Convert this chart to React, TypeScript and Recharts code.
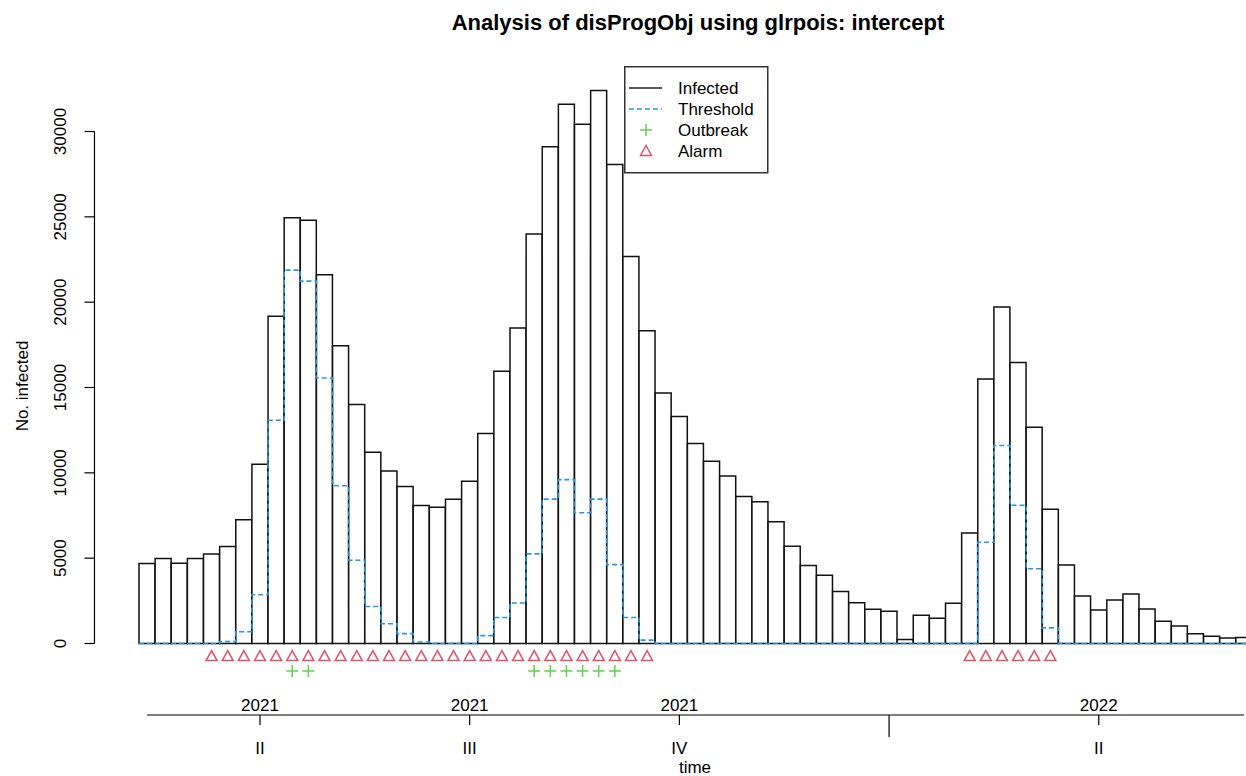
import React from 'react';
import { ComposedChart, Bar, Line, Scatter, XAxis, YAxis, ReferenceLine, Legend } from 'recharts';

const FONT = '"Liberation Sans", Arial, Helvetica, sans-serif';

// weekly counts (No. infected)
const infected = [
  4680, 4980, 4700, 4980, 5250, 5680, 7250, 10500, 19180, 24950,
  24800, 21600, 17450, 14000, 11200, 10100, 9200, 8080, 7980, 8450,
  9500, 12300, 15950, 18480, 24000, 29100, 31600, 30430, 32400, 28060,
  22680, 18330, 14680, 13300, 11720, 10680, 9810, 8620, 8300, 7130,
  5700, 4570, 4000, 3040, 2380, 2000, 1890, 240, 1660, 1480,
  2360, 6470, 15500, 19720, 16460, 12670, 7870, 4600, 2790, 1960,
  2550, 2900, 2020, 1300, 1020, 570, 430, 320, 350,
];

// glrpois threshold (upperbound)
const threshold = [
  0, 0, 0, 0, 0, 110, 690, 2860, 13080, 21880,
  21230, 15560, 9240, 4880, 2170, 1160, 580, 90, 0, 0,
  0, 460, 1520, 2370, 5250, 8460, 9600, 7660, 8460, 4620,
  1520, 200, 0, 0, 0, 0, 0, 0, 0, 0,
  0, 0, 0, 0, 0, 0, 0, 0, 0, 0,
  0, 0, 5930, 11600, 8100, 4380, 916, 0, 0, 0,
  0, 0, 0, 0, 0, 0, 0, 0, 0,
];

const alarmWeeks = [
  4, 5, 6, 7, 8, 9, 10, 11, 12, 13, 14, 15, 16, 17, 18, 19, 20, 21, 22, 23,
  24, 25, 26, 27, 28, 29, 30, 31, 51, 52, 53, 54, 55, 56,
];
const outbreakWeeks = [9, 10, 24, 25, 26, 27, 28, 29];

const yTicks = [0, 5000, 10000, 15000, 20000, 25000, 30000];
const timeTicks = [7.5, 20.5, 33.5, 46.5, 59.5];
const yearLabels = ['2021', '2021', '2021', '', '2022'];
const quarterLabels = ['II', 'III', 'IV', '', 'II'];

const Y_MIN = -4190;
const Y_MAX = 35000;
const ALARM_LEVEL = -735;
const OUTBREAK_LEVEL = -1610;
const Y_AXIS_AT = -2.76;

const barData = infected.map((v, i) => ({ week: i, infected: v }));
const stepData = [
  ...threshold.map((t, i) => ({ x: i, t })),
  { x: threshold.length, t: threshold[threshold.length - 1] },
];
const alarmData = alarmWeeks.map((w) => ({ x: w + 0.5, y: ALARM_LEVEL }));
const outbreakData = outbreakWeeks.map((w) => ({ x: w + 0.5, y: OUTBREAK_LEVEL }));

const RED = '#DF536B';
const GREEN = '#61D04F';
const BLUE = '#2297E6';

const TriangleShape = (props: any) => {
  const { cx, cy } = props;
  if (cx == null || cy == null) return null;
  return (
    <polygon
      points={`${cx},${cy - 5.5} ${cx - 5.5},${cy + 4.5} ${cx + 5.5},${cy + 4.5}`}
      fill="none"
      stroke={RED}
      strokeWidth={1.5}
    />
  );
};

const PlusShape = (props: any) => {
  const { cx, cy } = props;
  if (cx == null || cy == null) return null;
  return (
    <g stroke={GREEN} strokeWidth={1.5}>
      <line x1={cx - 6} x2={cx + 6} y1={cy} y2={cy} />
      <line x1={cx} x2={cx} y1={cy - 6} y2={cy + 6} />
    </g>
  );
};

const YTick = (props: any) => {
  const { x, y, payload } = props;
  return (
    <g>
      <line x1={x - 54.5} x2={x - 44.5} y1={y} y2={y} stroke="#000" strokeWidth={1.2} />
      <text
        transform={`translate(${x - 73},${y}) rotate(-90)`}
        textAnchor="middle"
        fontSize={17}
        fontFamily={FONT}
        fill="#000"
      >
        {payload.value}
      </text>
    </g>
  );
};

const TimeTick = (props: any) => {
  const { x, y, index } = props;
  const year = yearLabels[index];
  const q = quarterLabels[index];
  const long = q === '';
  return (
    <g>
      <line x1={x} x2={x} y1={y} y2={y + (long ? 22 : 10)} stroke="#000" strokeWidth={1.2} />
      {year && (
        <text x={x} y={y - 4} textAnchor="middle" fontSize={17} fontFamily={FONT} fill="#000">
          {year}
        </text>
      )}
      {q && (
        <text x={x} y={y + 39} textAnchor="middle" fontSize={17} fontFamily={FONT} fill="#000">
          {q}
        </text>
      )}
    </g>
  );
};

const LegendBox = () => {
  const rows = ['Infected', 'Threshold', 'Outbreak', 'Alarm'];
  return (
    <svg width={145} height={108} style={{ display: 'block' }}>
      <rect x={0.75} y={0.75} width={143} height={106} fill="#fff" stroke="#333" strokeWidth={1.5} />
      <line x1={5} x2={38} y1={22} y2={22} stroke="#222" strokeWidth={1.5} />
      <line x1={5} x2={38} y1={43} y2={43} stroke={BLUE} strokeWidth={1.5} strokeDasharray="5 3" />
      <g stroke={GREEN} strokeWidth={1.5}>
        <line x1={16} x2={28} y1={64} y2={64} />
        <line x1={22} x2={22} y1={58} y2={70} />
      </g>
      <polygon points="22,79.5 16.5,89.5 27.5,89.5" fill="none" stroke={RED} strokeWidth={1.5} />
      {rows.map((r, i) => (
        <text key={r} x={54} y={22 + i * 21 + 6} fontSize={17} fontFamily={FONT} fill="#000">
          {r}
        </text>
      ))}
    </svg>
  );
};

export default function App() {
  return (
    <div
      style={{
        position: 'fixed',
        left: 0,
        top: 0,
        width: 1246,
        height: 776,
        overflow: 'hidden',
        background: '#fff',
        fontFamily: FONT,
      }}
    >
      <ComposedChart
        width={1260}
        height={776}
        data={barData}
        margin={{ top: 46.17, right: 8, bottom: 0, left: 79 }}
        barCategoryGap={0}
        barGap={0}
      >
        <XAxis
          xAxisId="num"
          dataKey="x"
          type="number"
          domain={[0, infected.length]}
          ticks={timeTicks}
          interval={0}
          height={61}
          axisLine={false}
          tickLine={false}
          tickSize={0}
          tickMargin={0}
          tick={<TimeTick />}
        />
        <XAxis xAxisId="cat" dataKey="week" type="category" height={0} hide />
        <YAxis
          type="number"
          domain={[Y_MIN, Y_MAX]}
          allowDataOverflow
          ticks={yTicks}
          interval={0}
          width={60}
          axisLine={false}
          tickLine={false}
          tickSize={0}
          tickMargin={0}
          tick={<YTick />}
        />
        <Bar
          xAxisId="cat"
          dataKey="infected"
          fill="#fff"
          stroke="#111"
          strokeWidth={1.5}
          isAnimationActive={false}
        />
        <Line
          xAxisId="num"
          data={stepData}
          dataKey="t"
          type="stepAfter"
          stroke={BLUE}
          strokeWidth={1.6}
          strokeDasharray="5 3"
          dot={false}
          activeDot={false}
          isAnimationActive={false}
        />
        <Scatter
          xAxisId="num"
          data={alarmData}
          dataKey="y"
          shape={TriangleShape}
          isAnimationActive={false}
        />
        <Scatter
          xAxisId="num"
          data={outbreakData}
          dataKey="y"
          shape={PlusShape}
          isAnimationActive={false}
        />
        <ReferenceLine
          xAxisId="num"
          segment={[{ x: Y_AXIS_AT, y: 0 }, { x: Y_AXIS_AT, y: 30000 }]}
          stroke="#000"
          strokeWidth={1.2}
          ifOverflow="visible"
        />
        <ReferenceLine
          xAxisId="num"
          segment={[{ x: 0.5, y: Y_MIN }, { x: infected.length - 0.5, y: Y_MIN }]}
          stroke="#000"
          strokeWidth={1.2}
          ifOverflow="visible"
        />
        <Legend
          layout="horizontal"
          verticalAlign="middle"
          align="center"
          wrapperStyle={{ left: 624, top: 66, width: 145, height: 108 }}
          content={() => <LegendBox />}
        />
      </ComposedChart>
      <svg
        width={1246}
        height={776}
        style={{ position: 'absolute', left: 0, top: 0, pointerEvents: 'none' }}
      >
        <text x={698} y={30} textAnchor="middle" fontSize={22} fontWeight="bold" fontFamily={FONT} fill="#000">
          Analysis of disProgObj using glrpois: intercept
        </text>
        <text
          transform="translate(28,386) rotate(-90)"
          textAnchor="middle"
          fontSize={17}
          fontFamily={FONT}
          fill="#000"
        >
          No. infected
        </text>
        <text x={695} y={773} textAnchor="middle" fontSize={17} fontFamily={FONT} fill="#000">
          time
        </text>
      </svg>
    </div>
  );
}
